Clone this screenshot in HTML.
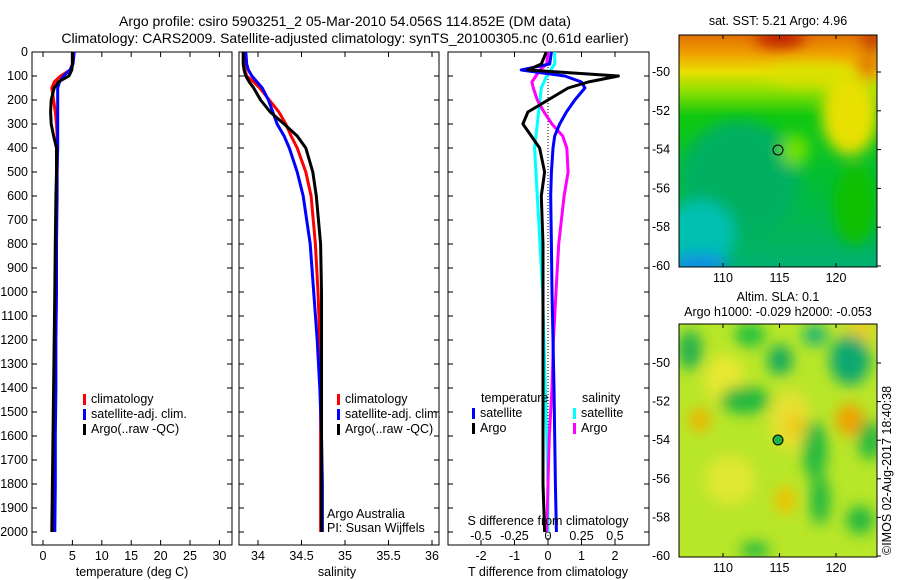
<!DOCTYPE html>
<html><head><meta charset="utf-8"><style>
body{margin:0;background:#fff;}
svg{display:block;font-family:"Liberation Sans",sans-serif;font-size:12.5px;}
</style></head><body>
<svg id="fig" width="900" height="580" viewBox="0 0 900 580">
<defs>
<filter id="bl" x="-50%" y="-50%" width="200%" height="200%"><feGaussianBlur stdDeviation="7"/></filter>
<clipPath id="c1"><rect x="679" y="35" width="198" height="232"/></clipPath>
<clipPath id="c2"><rect x="679" y="324" width="198" height="233"/></clipPath>
<linearGradient id="sstg" x1="0" y1="0" x2="0" y2="1">
<stop offset="0" stop-color="#e07000"/><stop offset="0.08" stop-color="#f0a000"/><stop offset="0.16" stop-color="#e8e000"/><stop offset="0.24" stop-color="#90e000"/><stop offset="0.35" stop-color="#10c810"/><stop offset="0.7" stop-color="#00bb40"/><stop offset="1" stop-color="#00b070"/>
</linearGradient>
</defs>
<text x="345" y="26" text-anchor="middle" style="font-size:14px">Argo profile: csiro 5903251_2 05-Mar-2010 54.056S 114.852E (DM data)</text>
<text x="345" y="43" text-anchor="middle" style="font-size:14px">Climatology: CARS2009. Satellite-adjusted climatology: synTS_20100305.nc (0.61d earlier)</text>
<g id="p1"></g>
<g id="p2"></g>
<g id="p3"></g>
<g>
<text x="778" y="25" text-anchor="middle">sat. SST: 5.21  Argo: 4.96</text>
<g clip-path="url(#c1)">
<rect x="679" y="35" width="198" height="232" fill="url(#sstg)"/>
<g filter="url(#bl)">
<ellipse cx="780" cy="38" rx="25" ry="10" fill="#c02000"/>
<ellipse cx="872" cy="40" rx="10" ry="10" fill="#c03000"/>
<ellipse cx="850" cy="115" rx="28" ry="40" fill="#e8e000"/>
<ellipse cx="868" cy="65" rx="12" ry="15" fill="#e08000"/>
<ellipse cx="810" cy="75" rx="40" ry="10" fill="#d8e000"/>
<ellipse cx="740" cy="180" rx="60" ry="60" fill="#00b060"/>
<ellipse cx="700" cy="235" rx="35" ry="35" fill="#00c0b0"/>
<ellipse cx="700" cy="265" rx="28" ry="12" fill="#1090e0"/>
<ellipse cx="795" cy="150" rx="14" ry="16" fill="#70e000"/>
<ellipse cx="855" cy="205" rx="22" ry="40" fill="#10c000"/>
</g>
</g>
<rect x="679" y="35" width="198" height="232" fill="none" stroke="#000"/>
<circle cx="778" cy="150" r="5" fill="none" stroke="#000"/>
</g>
<g>
<text x="778" y="301" text-anchor="middle">Altim. SLA: 0.1</text>
<text x="778" y="316" text-anchor="middle">Argo h1000: -0.029 h2000: -0.053</text>
<g clip-path="url(#c2)">
<rect x="679" y="324" width="198" height="233" fill="#b8e628"/>
<g filter="url(#bl)">
<ellipse cx="725" cy="380" rx="20" ry="25" fill="#e8e830"/>
<ellipse cx="790" cy="420" rx="20" ry="30" fill="#e8e030"/>
<ellipse cx="730" cy="480" rx="25" ry="25" fill="#e0e830"/>
<ellipse cx="860" cy="330" rx="15" ry="15" fill="#e8d020"/>
<ellipse cx="750" cy="335" rx="15" ry="12" fill="#20c040"/>
<ellipse cx="690" cy="350" rx="12" ry="20" fill="#20b050"/>
<ellipse cx="780" cy="360" rx="12" ry="15" fill="#10a860"/>
<ellipse cx="850" cy="360" rx="20" ry="25" fill="#10a870"/>
<ellipse cx="815" cy="335" rx="12" ry="10" fill="#10b080"/>
<ellipse cx="745" cy="400" rx="25" ry="14" fill="#20b840"/>
<ellipse cx="700" cy="420" rx="10" ry="12" fill="#f0b000"/>
<ellipse cx="850" cy="420" rx="14" ry="16" fill="#f0a000"/>
<ellipse cx="795" cy="425" rx="8" ry="10" fill="#f0c000"/>
<ellipse cx="815" cy="450" rx="12" ry="30" fill="#20b840"/>
<ellipse cx="870" cy="440" rx="12" ry="20" fill="#20b840"/>
<ellipse cx="785" cy="500" rx="10" ry="14" fill="#f0c000"/>
<ellipse cx="820" cy="500" rx="10" ry="25" fill="#20b840"/>
<ellipse cx="860" cy="520" rx="14" ry="14" fill="#20b840"/>
<ellipse cx="755" cy="550" rx="15" ry="8" fill="#20b840"/>
</g>
</g>
<rect x="679" y="324" width="198" height="233" fill="none" stroke="#000"/>
<circle cx="778" cy="440" r="5" fill="#20b040" stroke="#000"/>
<text transform="translate(891,555) rotate(-90)">©IMOS 02-Aug-2017 18:40:38</text>
</g>
<g id="maps-axes"></g>
</svg>
<script>
// ---- data ----
const depths = [0,50,75,100,125,150,200,250,300,350,400,500,600,800,1000,1200,1400,1600,1800,2000];
const tempClim = [5.0,5.0,4.6,3.0,1.9,1.5,1.8,2.1,2.3,2.4,2.4,2.3,2.3,2.2,2.1,2.0,1.9,1.8,1.7,1.6];
const tempArgo = [5.0,5.0,4.9,4.4,2.6,1.9,1.4,1.3,1.4,1.8,2.3,2.3,2.2,2.1,2.0,1.9,1.8,1.7,1.6,1.5];
const tempSat = [5.3,5.1,4.6,3.5,2.8,2.5,2.5,2.5,2.5,2.5,2.5,2.4,2.4,2.3,2.3,2.2,2.2,2.1,2.1,2.0];
const salClim = [33.85,33.85,33.85,33.87,33.95,34.02,34.13,34.24,34.32,34.38,34.45,34.55,34.61,34.66,34.69,34.71,34.72,34.72,34.72,34.72];
const salArgo = [33.83,33.83,33.84,33.86,33.9,33.95,34.03,34.14,34.3,34.45,34.55,34.63,34.67,34.72,34.73,34.73,34.73,34.73,34.73,34.73];
const salSat = [33.86,33.87,33.89,33.93,33.99,34.05,34.12,34.17,34.22,34.3,34.36,34.45,34.52,34.6,34.64,34.68,34.71,34.73,34.74,34.74];
const dTsat = [0.1,0.05,-0.8,0.5,1.0,1.1,0.8,0.55,0.35,0.2,0.15,0.1,0.08,0.1,0.12,0.15,0.18,0.2,0.22,0.25];
const dTargo = [-0.05,-0.2,-0.6,2.1,1.2,0.6,0.0,-0.6,-0.75,-0.5,-0.25,-0.1,-0.2,-0.15,-0.15,-0.15,-0.15,-0.15,-0.15,-0.1];
const dSsat = [0.05,0.05,0.02,-0.01,-0.03,-0.05,-0.06,-0.07,-0.08,-0.09,-0.1,-0.09,-0.08,-0.06,-0.04,-0.03,-0.02,-0.01,0.0,0.0];
const dSargo = [0.0,-0.01,-0.06,-0.09,-0.12,-0.11,-0.08,-0.03,0.03,0.11,0.14,0.15,0.12,0.08,0.06,0.04,0.03,0.01,0.0,-0.01];
const depthTicks = [0,100,200,300,400,500,600,700,800,900,1000,1100,1200,1300,1400,1500,1600,1700,1800,1900,2000];
const tempTicks = [0,5,10,15,20,25,30];
const salTicks = [34,34.5,35,35.5,36];
const dTTicks = [-2,-1,0,1,2];
const dSTicks = [-0.5,-0.25,0,0.25,0.5];
const dSTickLabels = ["-0.5","-0.25","0","0.25","0.5"];
const lonTicks = [110,115,120];
const latTicks = [-50,-52,-54,-56,-58,-60];

const NS = "http://www.w3.org/2000/svg";
const yD = d => 52 + 0.24*d;
const xT = t => 43 + 5.88*t;
const xS = s => 258 + 87*(s-34);
const xDT = t => 548 + 33.5*t;
const xDS = s => 548 + 134*s;
const TOP = 52, BOT = 545;

function mk(parent, tag, attrs, text){
  const e = document.createElementNS(NS, tag);
  for (const k in attrs) e.setAttribute(k, attrs[k]);
  if (text !== undefined) e.textContent = text;
  parent.appendChild(e);
  return e;
}
function frame(g, x0, x1, name){
  const r = mk(g,'rect',{x:x0,y:TOP,width:x1-x0,height:BOT-TOP,fill:'none',stroke:'#000'});
  
  
}
function xticks(g, vals, fx, labels, y, name){
  vals.forEach((v,i)=>{
    const x = fx(v);
    mk(g,'line',{x1:x,x2:x,y1:BOT,y2:BOT-5,stroke:'#000'});
    mk(g,'line',{x1:x,x2:x,y1:TOP,y2:TOP+5,stroke:'#000'});
    const t = mk(g,'text',{x:x,y:y,'text-anchor':'middle'}, labels ? labels[i] : String(v));
    
    
  });
}
function dyticks(g, x0, x1, withLabels){
  depthTicks.forEach(d=>{
    const y = yD(d);
    mk(g,'line',{x1:x0,x2:x0+5,y1:y,y2:y,stroke:'#000'});
    mk(g,'line',{x1:x1,x2:x1-5,y1:y,y2:y,stroke:'#000'});
    if (withLabels){
      const t = mk(g,'text',{x:28,y:y+4,'text-anchor':'end'}, String(d));
      
      
    }
  });
}
function line(g, vals, fx, color, name, w){
  const pts = vals.map((v,i)=>fx(v).toFixed(1)+','+yD(depths[i]).toFixed(1)).join(' ');
  const p = mk(g,'polyline',{points:pts,fill:'none',stroke:color,'stroke-width':w||3,'stroke-linejoin':'round'});
  
  
}
function legend(g, x, y, items, name){
  items.forEach((it,i)=>{
    mk(g,'rect',{x:x,y:y+i*15-9,width:3,height:11,fill:it[1]});
    const t = mk(g,'text',{x:x+8,y:y+i*15}, it[0]);
    
    
  });
}

// Panel 1
const p1 = document.getElementById('p1');
frame(p1, 32, 232, 'temperature-panel');
dyticks(p1, 32, 232, true);
xticks(p1, tempTicks, xT, null, 560, 'temperature');
let t = mk(p1,'text',{x:132,y:576,'text-anchor':'middle'},'temperature (deg C)');


line(p1, tempClim, xT, '#ff0000', 'temp-climatology-line');
line(p1, tempSat, xT, '#0000ff', 'temp-satellite-line');
line(p1, tempArgo, xT, '#000000', 'temp-argo-line');
legend(p1, 83, 403, [['climatology','#ff0000'],['satellite-adj. clim.','#0000ff'],['Argo(..raw -QC)','#000000']], 'temp-legend');

// Panel 2
const p2 = document.getElementById('p2');
frame(p2, 239, 439, 'salinity-panel');
dyticks(p2, 239, 439, false);
xticks(p2, salTicks, xS, null, 560, 'salinity');
t = mk(p2,'text',{x:337,y:576,'text-anchor':'middle'},'salinity');


line(p2, salClim, xS, '#ff0000', 'sal-climatology-line');
line(p2, salSat, xS, '#0000ff', 'sal-satellite-line');
line(p2, salArgo, xS, '#000000', 'sal-argo-line');
legend(p2, 337, 403, [['climatology','#ff0000'],['satellite-adj. clim.','#0000ff'],['Argo(..raw -QC)','#000000']], 'sal-legend');
t = mk(p2,'text',{x:327,y:518},'Argo Australia');


t = mk(p2,'text',{x:327,y:532},'PI: Susan Wijffels');



// Panel 3
const p3 = document.getElementById('p3');
frame(p3, 448, 649, 'difference-panel');
dyticks(p3, 448, 649, false);
xticks(p3, dTTicks, xDT, null, 560, 'temp-diff');
dSTicks.forEach((v,i)=>{
  const tt = mk(p3,'text',{x:xDS(v),y:540,'text-anchor':'middle'}, dSTickLabels[i]);
  
  
});
mk(p3,'line',{x1:548,x2:548,y1:TOP,y2:BOT,stroke:'#000','stroke-dasharray':'1,2'});
line(p3, dSsat, xDS, '#00ffff', 'sal-diff-satellite-line');
line(p3, dSargo, xDS, '#ff00ff', 'sal-diff-argo-line');
line(p3, dTsat, xDT, '#0000ff', 'temp-diff-satellite-line');
line(p3, dTargo, xDT, '#000000', 'temp-diff-argo-line');
t = mk(p3,'text',{x:548,y:525,'text-anchor':'middle'},'S difference from climatology');


t = mk(p3,'text',{x:548,y:576,'text-anchor':'middle'},'T difference from climatology');


t = mk(p3,'text',{x:481,y:402},'temperature');


t = mk(p3,'text',{x:582,y:402},'salinity');


legend(p3, 472, 417, [['satellite','#0000ff'],['Argo','#000000']], 'diff-temp-legend');
legend(p3, 573, 417, [['satellite','#00ffff'],['Argo','#ff00ff']], 'diff-sal-legend');

// Map axes
const ma = document.getElementById('maps-axes');
const xLon = l => 723 + 11.3*(l-110);
[[35,267,72,19.4],[324,557,363,19.3]].forEach(m=>{
  const [top,bot,y50,k] = m;
  lonTicks.forEach(l=>{
    const x = xLon(l);
    mk(ma,'line',{x1:x,x2:x,y1:top,y2:top+4,stroke:'#000'});
    mk(ma,'line',{x1:x,x2:x,y1:bot,y2:bot-4,stroke:'#000'});
    const tt = mk(ma,'text',{x:x,y:bot+15,'text-anchor':'middle'}, String(l));
    
    
  });
  latTicks.forEach(la=>{
    const y = y50 + k*(-50-la);
    mk(ma,'line',{x1:877,x2:881,y1:y,y2:y,stroke:'#000'});
    const tt = mk(ma,'text',{x:652,y:y+4}, String(la));
    
    
  });
});
</script>
</body></html>
